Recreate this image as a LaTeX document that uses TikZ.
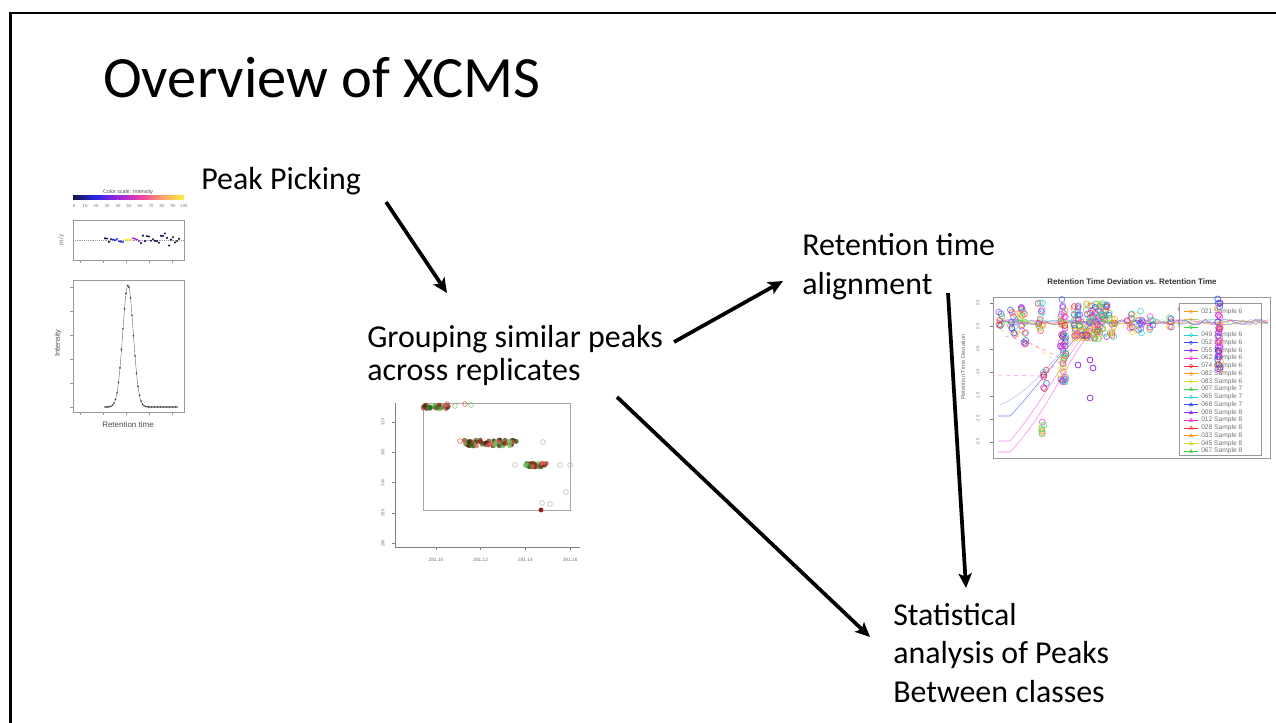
\documentclass[tikz,border=0pt]{standalone}
\usepackage{fontspec}
\setmainfont{Carlito}
\newfontfamily\plotfont{Liberation Sans}
\usetikzlibrary{arrows.meta,calc}
\definecolor{cnavy}{RGB}{20,20,70}
\definecolor{cblue}{RGB}{40,40,230}
\definecolor{cpurp}{RGB}{150,40,220}
\definecolor{cpink}{RGB}{235,60,170}
\definecolor{cpeach}{RGB}{250,160,110}
\definecolor{cgold}{RGB}{250,240,60}
\definecolor{r0}{RGB}{255,40,40}
\definecolor{r1}{RGB}{255,150,30}
\definecolor{r2}{RGB}{220,220,40}
\definecolor{r3}{RGB}{70,210,60}
\definecolor{r4}{RGB}{40,210,210}
\definecolor{r5}{RGB}{50,80,240}
\definecolor{r6}{RGB}{150,50,240}
\definecolor{r7}{RGB}{240,50,220}
\definecolor{d0}{RGB}{150,30,20}
\definecolor{d1}{RGB}{40,110,30}
\definecolor{d2}{RGB}{60,40,20}
\definecolor{d3}{RGB}{220,90,80}
\definecolor{d4}{RGB}{120,190,100}
\tikzset{
  txt/.style={font=\fontsize{24}{28.6}\selectfont,inner sep=0pt,align=left,anchor=base west},
  flow/.style={line width=2.8pt,-{Stealth[length=11pt,width=10pt,inset=2.5pt]}},
  tick/.style={font=\plotfont\fontsize{3.2}{3.2}\selectfont,text=black!55,inner sep=0pt},
  plotbox/.style={draw=black!40,line width=0.4pt}
}

\begin{document}
\begin{tikzpicture}[x=0.7523pt,y=-0.7523pt]
\useasboundingbox (0,0) rectangle (1276,723);
\pgfmathsetseed{4}
\draw[line width=1.6pt] (10.5,730) |- (1280,13);

% peak picking plot
\foreach \a/\b [count=\i from 0] in {cnavy/cblue,cblue/cpurp,cpurp/cpink,cpink/cpeach,cpeach/cgold}
  \shade[left color=\a,right color=\b] (73+\i*22.2,196) rectangle (95.2+\i*22.2,200);
\node[tick,font=\plotfont\fontsize{4}{4}\selectfont,text=black!70] (cbar) at (128,192) {Color scale: Intensity};
\foreach \v [count=\i from 0] in {0,10,...,100} \node[tick] at (74+\i*11,206) {\v};
\draw[plotbox] (73,220) rectangle (184,260);
\draw[black!40,densely dotted] (73,240) -- (184,240);
\foreach \x in {105,107,109,111,141,143,...,179} \fill[cnavy] (\x,{240+2*rand+(\x>140)*5*rand}) circle[radius=0.9pt];
\foreach \x in {113,115,...,123} \fill[cblue] (\x,{240+2*rand}) circle[radius=0.9pt];
\foreach \x in {125,127,129,131} \fill[cgold] (\x,{240+rand}) circle[radius=0.9pt];
\foreach \x in {133,135,137,139} \fill[cpurp] (\x,{240+2*rand}) circle[radius=0.9pt];
\node[tick,rotate=90,font=\plotfont\fontsize{5}{5}\selectfont] at (61,240) {m/z};
\draw[plotbox] (73,280) rectangle (184,412);
\draw[black!60,line width=0.3pt] plot[domain=105:178,samples=70] (\x,{407-122*exp(0-pow((\x-128)/7.5,2))});
\foreach \x in {105,106.5,...,178} \fill[black!75] (\x,{407-122*exp(0-pow((\x-128)/7.5,2))}) circle[radius=0.7pt];
\foreach \x in {80,103,126,149,172} {\draw[black!40] (\x,260) -- ++(0,3); \draw[black!40] (\x,412) -- ++(0,3);}
\foreach \y in {287,311,335,359,383,407} \draw[black!40] (73,\y) -- ++(-3,0);
\node[tick,rotate=90,font=\plotfont\fontsize{5.5}{5.5}\selectfont,text=black!70] at (58,343) {Intensity};
\node[tick,font=\plotfont\fontsize{6}{6}\selectfont,text=black!70] at (128,425) {Retention time};

% grouping plot
\draw[black!50] (395,403) |- (580,547);
\foreach \v [count=\i from 0] in {310,305,300,295,290} {\draw[black!50] (395,422+\i*30.3) -- ++(-3,0); \node[tick,rotate=90] at (383,422+\i*30.3) {\v};}
\foreach \v [count=\i from 0] in {281.10,281.12,281.14,281.16} {\draw[black!50] (436+\i*44.7,547) -- ++(0,3); \node[tick,font=\plotfont\fontsize{3.6}{3.6}\selectfont] at (436+\i*44.7,560) {\v};}
\draw[black!35] (423,403) rectangle (570,510);
\foreach \cx/\cy/\w/\h/\n in {436/407/13/2/45,490/443/27/3/80,536/465/11/2/45}
  \foreach \j in {1,...,\n} {
    \pgfmathsetmacro\k{int(random(0,4))}
    \fill[d\k,opacity=.7] ({\cx+\w*rand},{\cy+\h*rand}) circle[radius=1.8pt];}
\foreach \x/\y/\c in {455/406/d4,465/404/d3,471/405/d4,447/404/d3,460/441/d3,543/442/black!30,566/492/black!30,542/503/black!30,550/504/black!30,515/465/black!30,560/465/black!30,570/465/black!30}
  \draw[\c] (\x,\y) circle[radius=1.8pt];
\fill[d0] (541,510) circle[radius=1.8pt];

% alignment plot
\node[font=\plotfont\bfseries\fontsize{6}{6}\selectfont,text=black!80,inner sep=0pt] (rtitle) at (1132,282) {Retention Time Deviation vs. Retention Time};
\draw[plotbox] (993,297) rectangle (1270,458);
\foreach \v [count=\i from 0] in {0.5,0.0,-0.5,-1.0,-1.5,-2.0,-2.5} {\draw[black!50] (993,303+\i*23.2) -- ++(-3,0); \node[tick,rotate=90] at (978,303+\i*23.2) {\v};}
\node[tick,rotate=90,font=\plotfont\fontsize{4.4}{4.4}\selectfont] at (963,367) {Retention Time Deviation};
\foreach \k in {0,...,7} \draw[r\k,opacity=.5] plot[domain=997:1268,samples=40] (\x,{322+2.5*rand});
\draw[r5,opacity=.7] (998,416) -- (1010,416) .. controls (1040,385) and (1065,345) .. (1090,325);
\draw[r5!60,opacity=.6] (1000,405) .. controls (1035,390) and (1060,350) .. (1085,326);
\draw[r7,opacity=.6] (998,441) -- (1010,441) .. controls (1045,400) and (1068,350) .. (1092,327);
\draw[r7,opacity=.6] (998,452) -- (1010,452) .. controls (1050,410) and (1070,352) .. (1095,328);
\draw[r7,dashed,opacity=.6] (998,375) -- (1040,376) -- (1060,362);
\draw[r1,dashed,opacity=.6] (1000,330) .. controls (1030,338) and (1045,355) .. (1058,362) .. controls (1065,355) and (1075,340) .. (1090,328);
\draw[r0,dashed,opacity=.5] (1005,336) .. controls (1030,342) and (1045,350) .. (1060,358);
\foreach \cx/\cy/\w/\h/\n in {1000/318/2/8/8,1013/322/3/14/15,1023/327/3/20/20,1040/316/3/15/15,1045/380/2/10/8,1042/430/2/8/8,1063/340/3/42/60,1090/321/17/18/130,1112/322/3/15/15,1130/325/3/12/12,1140/322/3/12/12,1150/323/3/8/8,1170/322/2/6/6,1183/318/2/10/8}
  \foreach \j in {1,...,\n} {
    \pgfmathsetmacro\k{int(random(0,7))}
    \draw[r\k,opacity=.7,line width=0.6pt] ({\cx+\w*rand},{\cy+\h*rand}) circle[radius=2.2pt];}
\foreach \x/\y in {1090/360,1093/368,1090/398,1078/365} \draw[r6,line width=0.6pt] (\x,\y) circle[radius=2.2pt];
\draw[plotbox,fill=white] (1179,303) rectangle (1261,455);
\foreach \s [count=\i] in {021 Sample 6,{},{},049 Sample 6,052 Sample 6,055 Sample 6,062 Sample 6,074 Sample 6,082 Sample 6,083 Sample 6,007 Sample 7,065 Sample 7,068 Sample 7,009 Sample 8,012 Sample 8,028 Sample 8,033 Sample 8,045 Sample 8,067 Sample 8} {
  \pgfmathsetmacro\k{int(mod(\i,8))}
  \draw[r\k] (1184,304+\i*7.75) -- (1198,304+\i*7.75);
  \ifnum\i<11 \draw[r\k] (1191,304+\i*7.75) circle[radius=1.3pt]; \else \draw[r\k] (1191,304+\i*7.75) ++(0,-2) -- ++(1.7,3) -- ++(-3.4,0) -- cycle; \fi
  \node[tick,font=\plotfont\fontsize{5}{5}\selectfont,anchor=west] at (1201,304+\i*7.75) {\s};}
\foreach \k in {0,...,7} \draw[r\k,opacity=.5] plot[domain=1180:1262,samples=14] (\x,{322+3*rand});
\foreach \j in {1,...,45} {
  \pgfmathsetmacro\k{int(random(5,8))}
  \ifnum\k=8 \def\k{1}\fi
  \draw[r\k,opacity=.8,line width=0.6pt] ({1219+1.5*rand},{334+36*rand}) circle[radius=2.2pt];}

% steps
\node[txt,font=\fontsize{44}{50}\selectfont] (title) at (103,98) {Overview of XCMS};
\node[txt] (peak) at (201,190) {Peak Picking};
\node[txt,font=\fontsize{24}{24.8}\selectfont] (group) at (367,380) {Grouping similar peaks\\across replicates};
\node[txt,font=\fontsize{24}{30}\selectfont] (align) at (802,295) {Retention time\\alignment};
\node[txt,font=\fontsize{24}{28.6}\selectfont] (stats) at (893,702) {Statistical\\analysis of Peaks\\Between classes};

\draw[flow] ($(peak.base west)+(185,12)$) -- ($(group.base west)+(80,-87)$);
\draw[flow] ($(group.base west)+(307,-38)$) -- ($(align.base west)+(-19,-14)$);
\draw[flow] ($(align.base west)+(146,-2)$) -- ($(stats.base west)+(73,-114)$);
\draw[flow] ($(group.base west)+(250,17)$) -- ($(stats.base west)+(-23,-65)$);
\end{tikzpicture}
\end{document}
